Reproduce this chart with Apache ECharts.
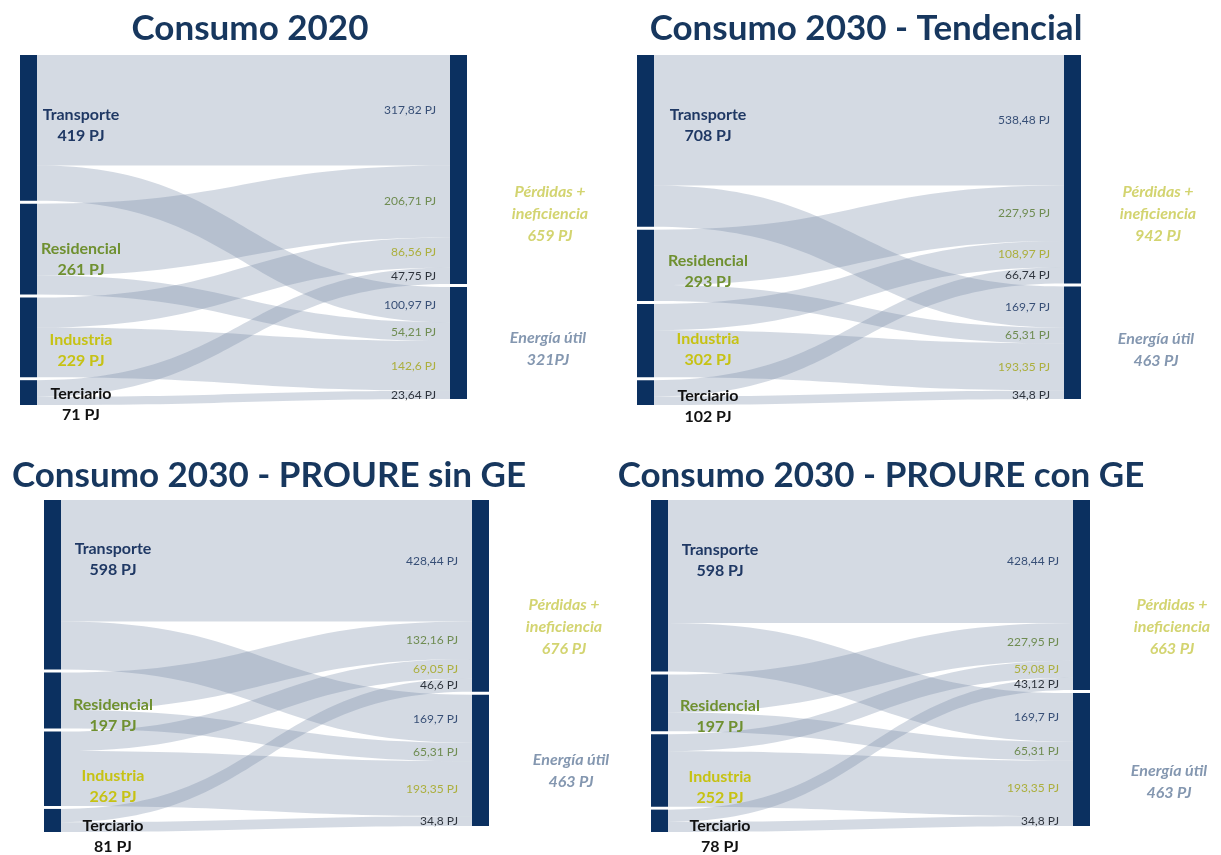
<!DOCTYPE html>
<html>
<head>
<meta charset="utf-8">
<title>Consumo de energía por sector</title>
<script src="https://cdn.jsdelivr.net/npm/echarts@6/dist/echarts.min.js"></script>
<style>
  html, body { margin: 0; padding: 0; background: #fff; }
  #chart { width: 1221px; height: 855px; }
</style>
</head>
<body>
<div id="chart"></div>
<script>
// sectores (origen) y destinos del flujo
const sectors = ['Transporte', 'Residencial', 'Industria', 'Terciario'];
const sinks = ['Pérdidas +\nineficiencia', 'Energía útil'];

const titles = [
  'Consumo 2020',
  'Consumo 2030 - Tendencial',
  'Consumo 2030 - PROURE sin GE',
  'Consumo 2030 - PROURE con GE'
];

// totales por sector (PJ)
const totals2020 = [419, 261, 229, 71];
const totalsTend = [708, 293, 302, 102];
const totalsSinGE = [598, 197, 262, 81];
const totalsConGE = [598, 197, 252, 78];

// flujo sector -> pérdidas + ineficiencia (PJ)
const loss2020 = [317.82, 206.71, 86.56, 47.75];
const lossTend = [538.48, 227.95, 108.97, 66.74];
const lossSinGE = [428.44, 132.16, 69.05, 46.6];
const lossConGE = [428.44, 132.16, 59.08, 43.12];
// en el original la banda residencial de "con GE" lleva este rótulo
const lossConGEText = ['428,44 PJ', '227,95 PJ', '59,08 PJ', '43,12 PJ'];

// flujo sector -> energía útil (PJ)
const useful2020 = [100.97, 54.21, 142.6, 23.64];
const usefulTend = [169.7, 65.31, 193.35, 34.8];
const usefulSinGE = [169.7, 65.31, 193.35, 34.8];
const usefulConGE = [169.7, 65.31, 193.35, 34.8];

// rótulos de los destinos
const sinkText2020 = ['659 PJ', '321PJ'];
const sinkTextTend = ['942 PJ', '463 PJ'];
const sinkTextSinGE = ['676 PJ', '463 PJ'];
const sinkTextConGE = ['663 PJ', '463 PJ'];

const panels = [
  { title: titles[0], totals: totals2020, loss: loss2020, useful: useful2020, sinkText: sinkText2020 },
  { title: titles[1], totals: totalsTend, loss: lossTend, useful: usefulTend, sinkText: sinkTextTend },
  { title: titles[2], totals: totalsSinGE, loss: lossSinGE, useful: usefulSinGE, sinkText: sinkTextSinGE },
  { title: titles[3], totals: totalsConGE, loss: lossConGE, useful: usefulConGE, sinkText: sinkTextConGE, lossText: lossConGEText }
];

// posición de cada diagrama en la página
const boxes = [
  { left: 20, top: 55, width: 447, height: 350, tx: 250, ty: 29, srcDx: 44, srcDy: [-3, 10, 13, 12], sinkDx: [83, 81], sinkDy: [44, 6] },
  { left: 637, top: 55, width: 444, height: 350, tx: 866, ty: 29, srcDx: 54, srcDy: [-16, 6, 9, 14], sinkDx: [77, 75], sinkDy: [45, 7] },
  { left: 44, top: 500, width: 445, height: 332, tx: 269, ty: 476, srcDx: 52, srcDy: [-25, 15, 18, 16], sinkDx: [75, 82], sinkDy: [31, 10] },
  { left: 651, top: 500, width: 439, height: 332, tx: 881, ty: 476, srcDx: 52, srcDy: [-25, 13, 17, 16], sinkDx: [82, 79], sinkDy: [32, 22] }
];

const sectorColors = ['#1f3864', '#6f9030', '#c6c214', '#111111'];
const sinkColors = ['#d3d470', '#8497b0'];
const FONT = 'Lato, "Open Sans", sans-serif';

const fmtPJ = v => String(v).replace('.', ',') + ' PJ';

const chart = echarts.init(document.getElementById('chart'));

const buildSeries = (p, i) => {
  const b = boxes[i];
  const nodes = sectors.map((s, k) => ({
    name: s,
    value: p.totals[k],
    label: {
      formatter: s + '\n' + p.totals[k] + ' PJ',
      color: sectorColors[k],
      distance: b.srcDx,
      offset: [0, b.srcDy[k]]
    }
  })).concat(sinks.map((s, k) => ({
    name: s,
    label: {
      formatter: s + '\n' + p.sinkText[k],
      color: sinkColors[k],
      fontStyle: 'italic',
      lineHeight: 22,
      distance: 0,
      offset: [b.sinkDx[k], b.sinkDy[k]]
    }
  })));

  const links = [];
  sectors.forEach((s, k) => {
    links.push({ source: s, target: sinks[0], value: p.loss[k] });
    links.push({ source: s, target: sinks[1], value: p.useful[k] });
  });

  return {
    type: 'sankey',
    left: b.left,
    top: b.top,
    width: b.width,
    height: b.height,
    nodeWidth: 17,
    nodeGap: 3,
    layoutIterations: 0,
    draggable: false,
    silent: true,
    emphasis: { disabled: true },
    itemStyle: { color: '#0b3060', borderWidth: 0 },
    lineStyle: { color: '#6f85a3', opacity: 0.3, curveness: 0.5 },
    label: {
      position: 'right',
      align: 'center',
      fontFamily: FONT,
      fontWeight: 'bold',
      fontSize: 16,
      lineHeight: 21
    },
    data: nodes,
    links: links
  };
};

const titleGraphics = panels.map((p, i) => ({
  type: 'text',
  x: boxes[i].tx,
  y: boxes[i].ty,
  style: {
    text: p.title,
    fill: '#17375e',
    font: 'bold 35px ' + FONT,
    align: 'center',
    verticalAlign: 'middle',
    textAlign: 'center',
    textVerticalAlign: 'middle'
  }
}));

chart.setOption({
  animation: false,
  backgroundColor: '#ffffff',
  graphic: titleGraphics,
  series: panels.map(buildSeries)
});

// rótulos de cada flujo junto al nodo destino, usando el layout calculado por ECharts
const flowLabels = [];
try {
  const model = chart.getModel();
  panels.forEach((p, i) => {
    const b = boxes[i];
    const graph = model.getSeriesByIndex(i).getGraph();
    graph.edges.forEach(edge => {
      const k = Math.floor(edge.dataIndex / 2);
      const isLoss = edge.dataIndex % 2 === 0;
      const t = edge.node2.getLayout();
      const e = edge.getLayout();
      let text;
      if (isLoss) text = p.lossText ? p.lossText[k] : fmtPJ(p.loss[k]);
      else text = fmtPJ(p.useful[k]);
      flowLabels.push({
        type: 'text',
        silent: true,
        x: b.left + t.x - 14,
        y: b.top + t.y + e.ty + e.dy / 2,
        style: {
          text: text,
          fill: sectorColors[k],
          font: '12px ' + FONT,
          align: 'right',
          verticalAlign: 'middle',
          textAlign: 'right',
          textVerticalAlign: 'middle'
        }
      });
    });
  });
} catch (err) {
  console.error(err);
}

chart.setOption({ graphic: titleGraphics.concat(flowLabels) });
</script>
</body>
</html>
